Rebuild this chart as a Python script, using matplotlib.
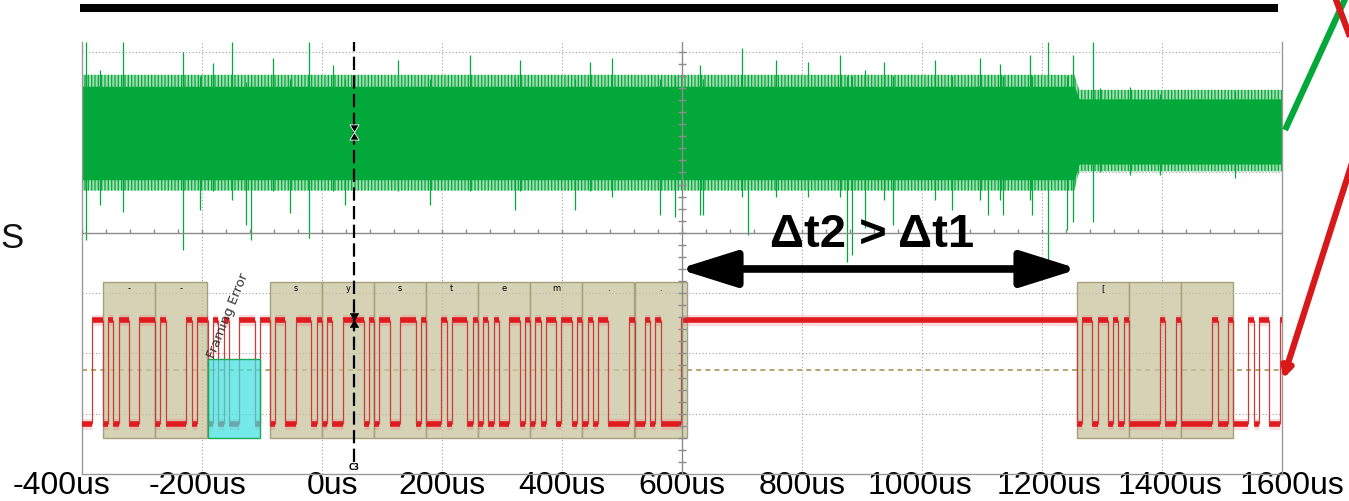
import numpy as np
import matplotlib.pyplot as plt
from matplotlib.lines import Line2D
from matplotlib.patches import Rectangle, FancyArrowPatch
from matplotlib.path import Path
from matplotlib.transforms import ScaledTranslation

# x axis in microseconds, y axis in screen divisions (0 = bottom edge)
tick_us = [-400, -200, 0, 200, 400, 600, 800, 1000, 1200, 1400, 1600]
tick_lbl = ['-400us', '-200us', '0us', '200us', '400us', '600us',
            '800us', '1000us', '1200us', '1400us', '1600us']

# green channel - noise band envelope
green_t = [-400, 1254, 1262, 1600]
green_core_hi = [6.43, 6.43, 6.22, 6.22]
green_core_lo = [4.88, 4.88, 5.14, 5.14]
green_fuzz_hi = [6.62, 6.62, 6.37, 6.37]
green_fuzz_lo = [4.70, 4.70, 5.02, 5.02]

# green channel - isolated spikes (time, top, bottom)
spike_t = [-393, -370, -332, -232, -203, -182, -150, -127, -118, -82, -53,
           -22, 18, 38, 127, 180, 247, 322, 330, 422, 447, 483, 563, 588,
           630, 635, 700, 710, 757, 810, 863, 875, 883, 905, 937, 952,
           1022, 1050, 1097, 1110, 1130, 1135, 1180, 1183, 1210, 1242,
           1252, 1285, 1297, 1347, 1397, 1522]
spike_hi = [7.16, 6.70, 7.16, 7.00, 6.60, 6.82, 7.16, 6.50, 6.50, 6.90, 6.55,
            7.16, 6.78, 6.55, 6.87, 6.55, 6.95, 6.55, 6.87, 6.55, 6.83, 6.90,
            6.55, 6.60, 6.78, 6.55, 7.06, 6.60, 6.87, 6.83, 6.95, 6.60, 6.60,
            6.70, 6.83, 6.60, 6.87, 6.60, 6.90, 6.60, 6.80, 6.60, 6.95, 6.60,
            7.16, 6.60, 6.95, 7.16, 6.40, 6.42, 6.30, 6.35]
spike_lo = [3.88, 4.46, 4.34, 3.71, 4.38, 4.70, 4.54, 4.13, 3.88, 4.70, 4.33,
            3.91, 4.70, 4.46, 4.70, 4.46, 4.70, 4.38, 4.70, 4.38, 4.70, 4.60,
            4.30, 4.26, 4.30, 4.30, 4.60, 3.96, 4.60, 4.60, 4.60, 3.52, 3.63,
            4.08, 4.55, 4.13, 4.55, 4.38, 4.55, 4.30, 4.55, 4.30, 4.55, 4.30,
            3.52, 4.05, 4.18, 4.18, 5.00, 4.96, 4.96, 4.91]

# red channel - UART frames (start time, bits), decoded text
bit_us = 8.68
frame_t0 = [-400, -365, -278, -190, -87, 0, 87, 173, 260, 347, 434, 521,
            1258, 1345, 1432, 1518]
frame_bits = ['00', '0101100111', '0100001011', '0101001110', '0110011101',
              '0100111101', '0110011101', '0001011101', '0101001101',
              '0101101101', '0101100001', '0010100001', '0110110101',
              '0000001001', '0000001001', '0001011001']
frame_txt = [None, '-', '-', None, 's', 'y', 's', 't', 'e', 'm', '.', '.',
             '[', '', '', None]
error_t0 = -190
level_hi, level_lo = 2.55, 0.83
cursor_us = 53.3

green = '#03a83a'
red = '#e01b1f'
plt.rcParams['hatch.linewidth'] = 0.9

fig = plt.figure(figsize=(13.49, 5.01), dpi=100)
ax = fig.add_axes([82 / 1349, 27 / 501, 1200 / 1349, 432 / 501])
ax.set_xlim(-400, 1600)
ax.set_ylim(0, 7.164)
for s in ['left', 'right', 'bottom']:
    ax.spines[s].set_color('#9a9a9a')
    ax.spines[s].set_linewidth(1)
ax.spines['top'].set_visible(False)
ax.set_yticks([])
ax.set_xticks(tick_us, tick_lbl)
ax.tick_params(axis='x', length=0, pad=-2.5, labelsize=23)
lbl_dx = [-21, -5, 11, 0, 0, 0, 0, -2, 7, 8, 10]
for lbl, dx in zip(ax.get_xticklabels(), lbl_dx):
    lbl.set_family('Liberation Sans')
    lbl.set_transform(lbl.get_transform()
                      + ScaledTranslation(dx / 100, 0, fig.dpi_scale_trans))

# graticule
grid_kw = dict(color='#a0a0a0', lw=0.8, ls=(0, (1, 2)), zorder=1)
for t in tick_us[1:-1]:
    if t != 600:
        ax.axvline(t, **grid_kw)
for d in [1, 2, 3, 5, 6, 7]:
    ax.axhline(d, **grid_kw)
ax.axhline(4, color='#8c8c8c', lw=1, zorder=4)
ax.axvline(600, color='#8c8c8c', lw=1, zorder=4)
ax.vlines(np.arange(-400, 1601, 40), 4, 4.07, color='#8c8c8c', lw=1, zorder=4)
ax.hlines(np.arange(0.2, 7.1, 0.2), 594, 606, color='#8c8c8c', lw=1, zorder=4)

# trigger level
ax.axhline(1.725, color='#a4975a', lw=1.2, ls=(0, (3, 2.5)), zorder=2)

# green trace
ax.fill_between(green_t, green_fuzz_lo, green_fuzz_hi, fc='#9fdcb0',
                ec=green, hatch='|||||', lw=0, zorder=2)
ax.fill_between(green_t, green_core_lo, green_core_hi, color=green,
                lw=0, zorder=2)
ax.vlines(spike_t, spike_lo, spike_hi, color=green, lw=0.9, zorder=2)

# decoder boxes
for t0, txt in zip(frame_t0, frame_txt):
    if txt is None:
        continue
    ax.add_patch(Rectangle((t0, 0.597), 10 * bit_us, 2.587,
                           fc=(0.79, 0.765, 0.62, 0.75), ec='#a6a17d',
                           lw=1, zorder=2))
    ax.text(t0 + 5 * bit_us, 3.07, txt, fontsize=6, ha='center',
            va='center', zorder=3)

# UART level runs
runs = []
cur = -400
for t0, bits in zip(frame_t0, frame_bits):
    if t0 > cur:
        runs.append([cur, t0, 1])
    for i, b in enumerate(bits):
        runs.append([t0 + i * bit_us, t0 + (i + 1) * bit_us, int(b)])
    cur = t0 + len(bits) * bit_us
if cur < 1600:
    runs.append([cur, 1600, 1])
merged = []
for r in runs:
    if merged and merged[-1][2] == r[2]:
        merged[-1][1] = r[1]
    else:
        merged.append(r)

xs0 = [r[0] for r in merged]
xs1 = [min(r[1], 1600) for r in merged]
ys = [level_hi if r[2] else level_lo for r in merged]
ax.hlines(ys, xs0, xs1, color='#f07070', lw=8, alpha=0.25, zorder=3)
ax.hlines(ys, xs0, xs1, color=red, lw=4, zorder=3)
edges = [r[0] for r in merged[1:]]
ax.vlines(edges, level_lo, level_hi, color='#cc3a3a', lw=0.9, zorder=3)

# framing error
ax.add_patch(Rectangle((error_t0, 0.597), 10 * bit_us, 1.31,
                       fc=(0.25, 0.88, 0.88, 0.72), ec='#1fa85a', lw=1,
                       zorder=3.5))
ax.text(error_t0 + 33, 2.62, 'Framing Error', rotation=68, fontsize=9.5,
        color='#333333', ha='center', va='center', zorder=4)

# cursor
ax.plot([cursor_us, cursor_us], [0.2, 7.164], color='k', lw=1.6,
        dashes=(6, 2.4), zorder=5)
hg = Path([(-0.6, 1), (0.6, 1), (0, 0), (0.6, -1), (-0.6, -1), (0, 0),
           (-0.6, 1)])
ax.plot([cursor_us], [5.67], ls='none', marker=hg, ms=11, mfc='k',
        mec='white', mew=0.6, zorder=6)
ax.plot([cursor_us], [level_hi], ls='none', marker=hg, ms=10, mfc='k',
        mec='k', mew=0.5, zorder=6)
ax.text(cursor_us, 0.116, 'C3', fontsize=5.5, fontweight='bold',
        ha='center', va='center', zorder=6)

# delta-t annotation
ax.add_patch(FancyArrowPatch((594, 3.40), (1261, 3.40),
                             arrowstyle='<|-|>,head_length=35,head_width=11',
                             mutation_scale=1, lw=5.5, color='k',
                             shrinkA=0, shrinkB=0, zorder=7))
ax.text(917, 3.76, 'Δt2 > Δt1', fontsize=34, fontweight='bold',
        family='Liberation Sans', ha='center', va='baseline', zorder=7)


# figure level decorations (pixel positions)
def fx(px):
    return px / 1349


def fy(py):
    return 1 - py / 501


fig.add_artist(Line2D([fx(80), fx(1278)], [fy(8), fy(8)], lw=5.8, color='k',
                      solid_capstyle='butt'))
fig.add_artist(Line2D([fx(1285), fx(1346)], [fy(130), fy(-3)], lw=4.5,
                      color=green, solid_capstyle='butt'))
fig.add_artist(Line2D([fx(1335), fx(1352)], [fy(-3), fy(42)], lw=4.5,
                      color='#d7191c', solid_capstyle='butt'))
fig.add_artist(FancyArrowPatch((fx(1353), fy(160)), (fx(1283), fy(379)),
                               transform=fig.transFigure,
                               arrowstyle='-|>,head_length=6,head_width=3',
                               mutation_scale=1, lw=4.5, color='#d7191c',
                               shrinkA=0, shrinkB=0))
fig.text(fx(0), fy(248), 'S', fontsize=25, family='Liberation Sans',
         va='baseline', color='#111111')

fig.savefig('out.png', dpi=100)
